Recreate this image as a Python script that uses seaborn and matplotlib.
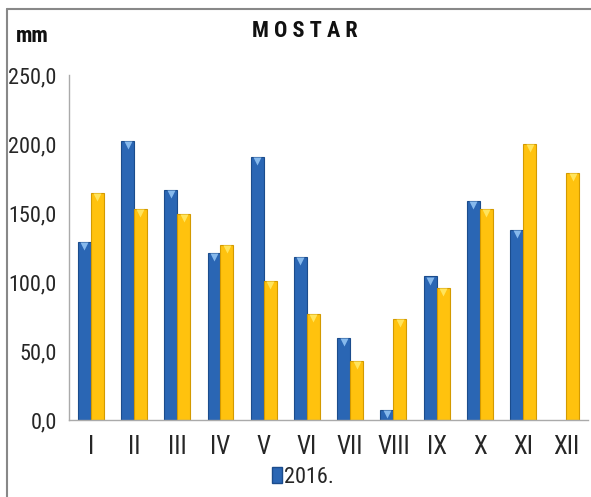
import numpy as np
import pandas as pd
import seaborn as sns
import matplotlib.pyplot as plt
from matplotlib.lines import Line2D
from matplotlib.patches import Patch

months = ['I', 'II', 'III', 'IV', 'V', 'VI', 'VII', 'VIII', 'IX', 'X', 'XI', 'XII']
rain_2016 = [129.0, 202.0, 166.5, 121.0, 190.5, 118.0, 59.5, 7.5, 104.0, 159.0, 138.0, 0.0]
rain_avg = [164.5, 153.0, 149.5, 127.0, 101.0, 77.0, 42.5, 73.0, 95.5, 153.0, 200.0, 179.0]
series = ['2016.', 'prosjek']

df = pd.DataFrame({
    'mjesec': months * 2,
    'mm': rain_2016 + rain_avg,
    'serija': [series[0]] * 12 + [series[1]] * 12,
})

sns.set_style('white')
plt.rcParams['font.family'] = ['Roboto Condensed', 'Liberation Sans', 'DejaVu Sans']

fig = plt.figure(figsize=(5.91, 4.97), dpi=100)
ax = fig.add_axes([0.117, 0.155, 0.878, 0.694])

blue = '#2a66b4'
yellow = '#ffc20e'
sns.barplot(data=df, x='mjesec', y='mm', hue='serija', order=months,
            hue_order=series, palette=[blue, yellow], width=0.6, saturation=1,
            edgecolor=None, linewidth=0, ax=ax, legend=False)

# darker edges + small triangle caps like the original 3D look
for p in list(ax.patches):
    if p.get_height() <= 0:
        continue
    is_blue = p.get_facecolor()[2] > 0.5
    p.set_edgecolor('#1b4c8c' if is_blue else '#d39a00')
    p.set_linewidth(0.8)
    cx = p.get_x() + p.get_width() / 2
    ax.plot(cx, p.get_height() - 3.0, marker='v', ms=6,
            color='#86b9ec' if is_blue else '#ffe45c', mec='none')

ax.set_ylim(0, 250)
ax.set_xlim(-0.5, 11.5)
ax.set_yticks(np.arange(0, 251, 50))
ax.set_yticklabels([f'{v:.1f}'.replace('.', ',') for v in np.arange(0, 251, 50)])
ax.set_xlabel('')
ax.set_ylabel('')
ax.set_xticks(np.arange(-0.5, 12, 1), minor=True)
ax.tick_params(axis='x', which='major', length=0, labelsize=18, pad=11)
ax.tick_params(axis='x', which='minor', length=6, color='#999999', width=1)
ax.tick_params(axis='y', length=5, color='#999999', labelsize=16, pad=4)

for s in ['top', 'right']:
    ax.spines[s].set_visible(False)
for s in ['left', 'bottom']:
    ax.spines[s].set_color('#aaaaaa')
    ax.spines[s].set_linewidth(1)

fig.text(0.516, 0.938, 'M O S T A R', ha='center', va='center',
         fontsize=16, fontweight='bold', color='#111111')
fig.text(0.027, 0.928, 'mm', ha='left', va='center',
         fontsize=16, fontweight='bold', color='#111111')

handle = Patch(facecolor=blue, edgecolor='#1b4c8c')
fig.legend([handle], [series[0]], loc='center', bbox_to_anchor=(0.513, 0.04),
           frameon=False, fontsize=16, handlelength=0.45, handleheight=0.75,
           handletextpad=0.1, borderaxespad=0, borderpad=0)

# outer frame (only left and top visible in the crop)
fig.add_artist(Line2D([0.012, 0.012], [0, 0.982], transform=fig.transFigure,
                      color='#888888', lw=1.5))
fig.add_artist(Line2D([0.012, 1], [0.982, 0.982], transform=fig.transFigure,
                      color='#888888', lw=1.5))

fig.savefig('out.png', dpi=100)
